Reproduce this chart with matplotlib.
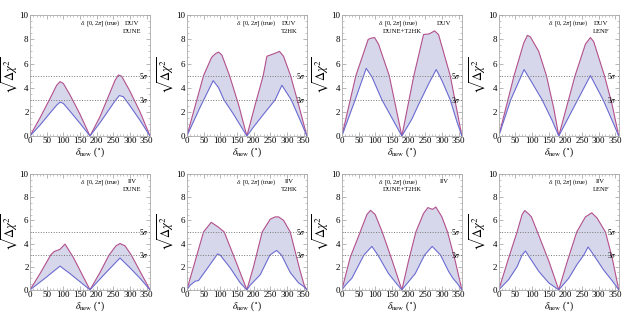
import numpy as np
import matplotlib
matplotlib.use('Agg')
import matplotlib.pyplot as plt
from matplotlib.ticker import MultipleLocator

plt.rcParams['font.family'] = ['Liberation Serif', 'DejaVu Serif']
plt.rcParams['mathtext.fontset'] = 'stix'

# panel titles
scenario = ['DUV', 'DUV', 'DUV', 'DUV', 'IIV', 'IIV', 'IIV', 'IIV']
experiment = ['DUNE', 'T2HK', 'DUNE+T2HK', 'LENF', 'DUNE', 'T2HK', 'DUNE+T2HK', 'LENF']

# upper (red) curves
xu1 = [0, 30, 60, 80, 90, 100, 120, 150, 180, 210, 240, 255, 265, 275, 300, 330, 360]
up1 = [0, 1.5, 3.1, 4.2, 4.5, 4.35, 3.4, 1.8, 0, 1.6, 3.6, 4.6, 5.05, 4.95, 3.7, 2.0, 0]
xu2 = [0, 25, 50, 74, 85, 95, 105, 128, 155, 180, 205, 229, 240, 260, 278, 290, 311, 335, 360]
up2 = [0, 2.5, 5.0, 6.5, 6.8, 6.95, 6.7, 5.0, 2.6, 0, 2.6, 5.0, 6.6, 6.8, 7.0, 6.6, 5.0, 2.6, 0]
xu3 = [0, 42, 79, 88, 98, 110, 142, 180, 216, 245, 262, 278, 290, 325, 360]
up3 = [0, 5.0, 8.0, 8.1, 8.15, 7.6, 5.0, 0, 5.0, 8.4, 8.45, 8.7, 8.4, 5.0, 0]
xu4 = [0, 46, 75, 86, 95, 120, 143, 165, 180, 229, 260, 275, 285, 317, 340, 360]
up4 = [0, 5.0, 7.7, 8.33, 8.2, 7.0, 5.0, 2.3, 0, 5.0, 7.6, 8.15, 7.8, 5.0, 2.6, 0]
xu5 = [0, 30, 62, 72, 90, 105, 130, 155, 180, 210, 237, 258, 270, 285, 304, 330, 360]
up5 = [0, 1.4, 3.0, 3.3, 3.5, 3.95, 2.8, 1.4, 0, 1.5, 3.0, 3.8, 4.0, 3.8, 3.0, 1.6, 0]
xu6 = [0, 30, 50, 73, 85, 95, 112, 145, 180, 200, 226, 250, 265, 275, 290, 310, 340, 352, 360]
up6 = [0, 3.0, 5.0, 5.83, 5.6, 5.4, 5.0, 2.6, 0, 2.0, 5.0, 6.1, 6.3, 6.3, 6.0, 5.0, 1.6, 0.4, 0]
xu7 = [0, 25, 55, 75, 86, 100, 121, 150, 180, 200, 222, 245, 258, 272, 282, 300, 317, 340, 360]
up7 = [0, 2.8, 5.0, 6.5, 6.87, 6.5, 5.0, 2.6, 0, 2.5, 5.0, 6.6, 7.1, 6.95, 7.15, 6.3, 5.0, 2.5, 0]
xu8 = [0, 28, 55, 70, 78, 90, 98, 116, 150, 180, 205, 234, 260, 279, 295, 320, 340, 360]
up8 = [0, 2.6, 5.0, 6.5, 6.85, 6.55, 6.3, 5.0, 2.5, 0, 2.4, 5.0, 6.3, 6.65, 6.2, 5.0, 2.8, 0]

# lower (blue) curves
xl1 = [0, 30, 60, 80, 90, 100, 120, 150, 180, 210, 240, 255, 268, 280, 300, 330, 360]
lo1 = [0, 0.9, 1.9, 2.55, 2.8, 2.7, 2.05, 1.05, 0, 1.1, 2.3, 2.9, 3.35, 3.25, 2.5, 1.3, 0]
xl2 = [0, 40, 79, 95, 111, 140, 180, 200, 230, 265, 285, 313, 340, 360]
lo2 = [0, 2.4, 4.58, 4.0, 3.0, 1.8, 0, 0.75, 1.8, 3.0, 4.2, 3.0, 1.3, 0]
xl3 = [0, 40, 73, 90, 120, 150, 180, 210, 230, 260, 283, 300, 325, 345, 360]
lo3 = [0, 3.0, 5.6, 4.9, 3.0, 1.5, 0, 1.4, 2.6, 4.3, 5.5, 4.6, 3.0, 1.2, 0]
xl4 = [0, 36, 76, 100, 130, 160, 180, 237, 275, 313, 340, 360]
lo4 = [0, 3.0, 5.5, 4.4, 3.0, 1.3, 0, 3.0, 5.0, 3.0, 1.3, 0]
xl5 = [0, 45, 90, 120, 150, 180, 225, 270, 300, 330, 360]
lo5 = [0, 1.0, 2.05, 1.4, 0.7, 0, 1.4, 2.75, 1.9, 1.0, 0]
xl6 = [0, 10, 25, 35, 60, 92, 100, 130, 160, 170, 180, 190, 200, 220, 249, 269, 284, 310, 335, 350, 360]
lo6 = [0, 0.4, 0.75, 0.8, 1.8, 3.1, 3.0, 1.9, 0.6, 0.3, 0, 0.4, 0.7, 1.3, 3.0, 3.4, 3.0, 1.5, 0.6, 0.3, 0]
xl7 = [0, 15, 30, 66, 90, 108, 140, 165, 180, 200, 220, 248, 271, 296, 320, 333, 345, 360]
lo7 = [0, 0.55, 1.0, 3.0, 3.75, 3.0, 1.4, 0.5, 0, 0.7, 1.4, 3.0, 3.75, 3.0, 1.6, 1.0, 0.6, 0]
xl8 = [0, 30, 55, 70, 80, 88, 120, 150, 180, 210, 235, 255, 268, 285, 315, 340, 360]
lo8 = [0, 0.9, 2.0, 3.0, 3.35, 3.0, 1.6, 0.6, 0, 1.0, 2.2, 3.0, 3.7, 3.0, 1.7, 0.8, 0]

uppers = [(xu1, up1), (xu2, up2), (xu3, up3), (xu4, up4),
          (xu5, up5), (xu6, up6), (xu7, up7), (xu8, up8)]
lowers = [(xl1, lo1), (xl2, lo2), (xl3, lo3), (xl4, lo4),
          (xl5, lo5), (xl6, lo6), (xl7, lo7), (xl8, lo8)]

fig = plt.figure(figsize=(6.25, 3.13), dpi=100)

lefts = [0.048, 0.299, 0.547, 0.798]
rows = [(0.5655, 0.386), (0.074, 0.370)]

for i in range(8):
    r, c = divmod(i, 4)
    ax = fig.add_axes([lefts[c], rows[r][0], 0.192, rows[r][1]])
    xu, yu = uppers[i]
    xl, yl = lowers[i]
    # shaded band between the two curves
    ax.fill(np.r_[xu, xl[::-1]], np.r_[yu, yl[::-1]], color='#d7d7eb', lw=0)
    ax.plot(xu, yu, color='#b3508c', lw=0.8)
    ax.plot(xl, yl, color='#6b6bd2', lw=0.8)
    ax.axhline(5, color='#777777', ls=':', lw=0.7)
    ax.axhline(3, color='#777777', ls=':', lw=0.7)
    ax.text(326, 5, r'5$\sigma$', fontsize=5.5, va='center', ha='left')
    ax.text(326, 3, r'3$\sigma$', fontsize=5.5, va='center', ha='left')

    ax.set_xlim(0, 360)
    ax.set_ylim(0, 10)
    ax.xaxis.set_major_locator(MultipleLocator(50))
    ax.xaxis.set_minor_locator(MultipleLocator(10))
    ax.yaxis.set_major_locator(MultipleLocator(2))
    ax.yaxis.set_minor_locator(MultipleLocator(0.5))
    ax.tick_params(which='both', direction='in', top=True, right=True,
                   colors='#999999', labelcolor='black', labelsize=6.5, pad=1)
    ax.tick_params(which='major', length=3, width=0.5)
    ax.tick_params(which='minor', length=1.5, width=0.4)
    for s in ax.spines.values():
        s.set_color('#aaaaaa')
        s.set_linewidth(0.6)

    ax.set_xlabel(r'$\delta_{\rm new}$ ($^{\circ}$)', fontsize=7, labelpad=0)
    ax.set_ylabel(r'$\sqrt{\Delta\chi^2}$', fontsize=9, labelpad=0)

    if experiment[i] == 'DUNE+T2HK':
        ax.text(0.47, 0.935, r'$\delta$: [0, 2$\pi$] (true)', transform=ax.transAxes,
                fontsize=4.5, ha='center', va='center')
        ax.text(0.85, 0.935, scenario[i], transform=ax.transAxes,
                fontsize=4.8, ha='center', va='center')
        ax.text(0.5, 0.865, experiment[i], transform=ax.transAxes,
                fontsize=4.8, ha='center', va='center')
    else:
        ax.text(0.58, 0.935, r'$\delta$: [0, 2$\pi$] (true)', transform=ax.transAxes,
                fontsize=4.5, ha='center', va='center')
        ax.text(0.85, 0.935, scenario[i], transform=ax.transAxes,
                fontsize=4.8, ha='center', va='center')
        ax.text(0.85, 0.865, experiment[i], transform=ax.transAxes,
                fontsize=4.8, ha='center', va='center')

fig.savefig('out.png', dpi=100)
